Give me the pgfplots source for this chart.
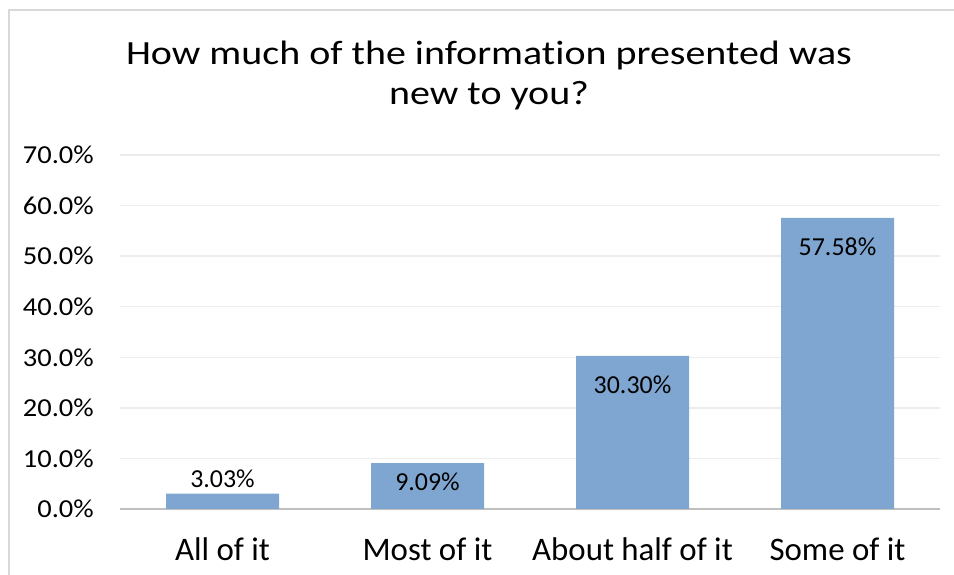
\documentclass[border=0pt]{standalone}
\usepackage{fontspec}
\setmainfont{Carlito}
\newfontfamily\titlefont{Carlito}[FakeStretch=1.18, Ligatures=CommonOff]
\newfontfamily\tickfont{Carlito}[FakeStretch=1.1]
\usepackage{pgfplots}
\pgfplotsset{compat=1.18}
\definecolor{barblue}{RGB}{126,166,208}
\definecolor{gridgray}{RGB}{236,236,236}
\definecolor{axisgray}{RGB}{191,191,191}
\definecolor{framegray}{RGB}{217,217,217}

\begin{document}
\begin{tikzpicture}
\useasboundingbox (0,0) rectangle (954bp,575bp);
\draw[framegray, line width=2bp] (9bp,0) -- (9bp,565bp) -- (954bp,565bp);

\begin{axis}[
    at={(120bp,66bp)}, anchor=south west,
    scale only axis,
    width=820bp, height=354bp,
    xmin=-0.5, xmax=3.5,
    ymin=0, ymax=70,
    ybar, bar width=113bp, bar shift=0pt,
    axis line style={draw=none},
    major tick length=0pt,
    ymajorgrids,
    grid style={gridgray, line width=1.5bp},
    extra y ticks={0},
    extra y tick labels={},
    extra y tick style={grid style={axisgray, line width=2bp}},
    xtick={0,1,2,3},
    xticklabels={All of it, Most of it, About half of it, Some of it},
    xticklabel style={anchor=base, yshift=-51bp, font=\fontsize{33}{38}\selectfont},
    ytick={0,10,...,70},
    yticklabel={\pgfmathprintnumber[fixed,fixed zerofill,precision=1]{\tick}\%},
    yticklabel style={anchor=east, inner sep=0pt, xshift=-26bp, font=\tickfont\fontsize{26}{30}\selectfont},
    /pgf/number format/assume math mode=true,
    clip=false,
]
\addplot[fill=barblue, draw=none,
    nodes near coords={\pgfmathprintnumber[fixed,fixed zerofill,precision=2]{\pgfplotspointmeta}\%},
    visualization depends on={\thisrow{dy} \as \labdy},
    every node near coord/.append style={anchor=center, yshift=\labdy bp, text=black,
        font=\fontsize{26}{30}\selectfont},
] table[x=x, y=y] {
x y     dy
0 3.03  15
1 9.09  -19
2 30.30 -29
3 57.58 -29
};
\end{axis}

\node[anchor=base, font=\titlefont\fontsize{34}{40}\selectfont] at (489bp,510bp) {How much of the information presented was};
\node[anchor=base, font=\titlefont\fontsize{34}{40}\selectfont] at (489bp,470bp) {new to you?};
\end{tikzpicture}
\end{document}
